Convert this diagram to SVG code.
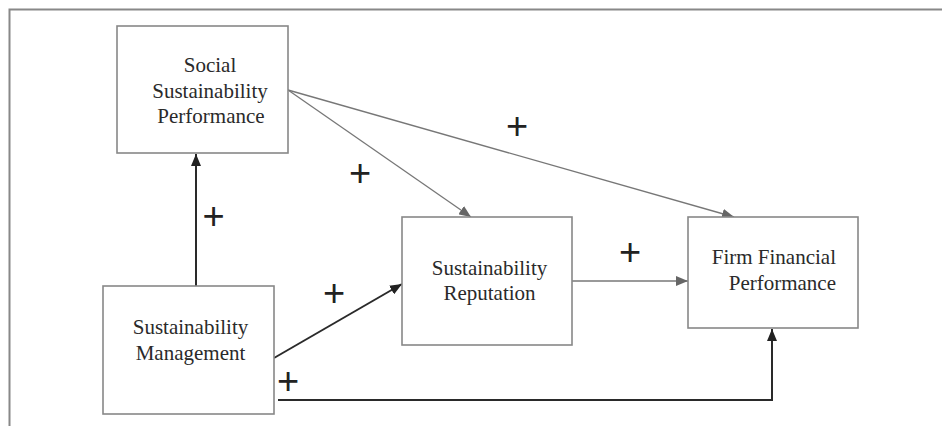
<svg xmlns="http://www.w3.org/2000/svg" width="942" height="426" viewBox="0 0 942 426">
<style>
.box{fill:#fff;stroke:#888;stroke-width:1.6}
.lbl{font-family:"Liberation Serif",serif;font-size:21px;fill:#2a2a2a;text-anchor:middle}
.plus{font-family:"Liberation Sans",sans-serif;font-size:38px;fill:#222;text-anchor:middle}
.grey{fill:none;stroke:#777;stroke-width:1.3}
.dark{fill:none;stroke:#2a2a2a;stroke-width:2}
.frame{fill:none;stroke:#888;stroke-width:2}
</style>
<defs>
<marker id="ag" viewBox="0 0 12 10" refX="12" refY="5" markerWidth="12" markerHeight="10" markerUnits="userSpaceOnUse" orient="auto"><path d="M0,0 L12,5 L0,10 Z" fill="#666"/></marker>
<marker id="ad" viewBox="0 0 12 10" refX="12" refY="5" markerWidth="12" markerHeight="10" markerUnits="userSpaceOnUse" orient="auto"><path d="M0,0 L12,5 L0,10 Z" fill="#222"/></marker>
</defs>
<rect width="942" height="426" fill="#fff"/>
<path class="frame" d="M9.5,426 V9.5 H942"/>
<g id="connectors">
<path class="dark" d="M196,286 V154" marker-end="url(#ad)"/>
<path class="grey" d="M288,90 L471,217" marker-end="url(#ag)"/>
<path class="grey" d="M288,90 L734,217" marker-end="url(#ag)"/>
<path class="dark" d="M274,358 L402,284" marker-end="url(#ad)"/>
<path class="grey" d="M572,281 H688" marker-end="url(#ag)"/>
<path class="dark" d="M278,400 H772 V329" marker-end="url(#ad)"/>
<g id="signs">
<text class="plus" x="213.5" y="229">+</text>
<text class="plus" x="360" y="186">+</text>
<text class="plus" x="517" y="139">+</text>
<text class="plus" x="334" y="306">+</text>
<text class="plus" x="630" y="265">+</text>
<text class="plus" x="288" y="394">+</text>
</g>
</g>
<g id="social">
<rect class="box" x="117" y="26" width="171" height="127"/>
<text class="lbl" x="210" y="72">Social</text>
<text class="lbl" x="210" y="98">Sustainability</text>
<text class="lbl" x="211" y="123">Performance</text>
</g>
<g id="management">
<rect class="box" x="103" y="286" width="171" height="128"/>
<text class="lbl" x="190.5" y="334">Sustainability</text>
<text class="lbl" x="190.5" y="360">Management</text>
</g>
<g id="reputation">
<rect class="box" x="402" y="217" width="170" height="128"/>
<text class="lbl" x="489.5" y="275">Sustainability</text>
<text class="lbl" x="489.5" y="300">Reputation</text>
</g>
<g id="firm">
<rect class="box" x="688" y="217" width="170" height="111"/>
<text class="lbl" x="836" y="264" style="text-anchor:end">Firm Financial</text>
<text class="lbl" x="836" y="290" style="text-anchor:end">Performance</text>
</g>
</svg>
